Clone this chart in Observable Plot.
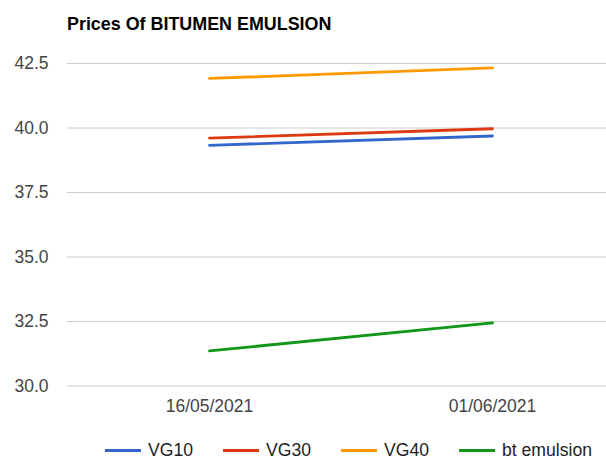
<!DOCTYPE html>
<html>
<head>
<meta charset="utf-8">
<script src="https://cdn.jsdelivr.net/npm/d3@7"></script>
<script src="https://cdn.jsdelivr.net/npm/@observablehq/plot@0.6"></script>
<style>
  html, body { margin: 0; padding: 0; background: #fff; overflow: hidden; }
  #wrap { position: relative; width: 606px; height: 468px; font-family: "Liberation Sans", Arial, sans-serif; }
  #title { position: absolute; left: 67px; top: 16px; font-size: 17.9px; line-height: 1; font-weight: bold; color: #000; white-space: nowrap; }
  #chart { position: absolute; left: 0; top: 45px; }
  #legend { position: absolute; left: 105px; top: 440px; display: flex; align-items: center; height: 21px; font-size: 17.6px; color: #222; white-space: nowrap; }
  .item { display: flex; align-items: center; margin-right: 30px; }
  .sw { width: 36px; height: 3.5px; margin-right: 7px; }
</style>
</head>
<body>
<div id="wrap">
  <div id="title">Prices Of BITUMEN EMULSION</div>
  <div id="chart"></div>
  <div id="legend"></div>
</div>
<script>
const dates = ["16/05/2021", "01/06/2021"];
const seriesNames = ["VG10", "VG30", "VG40", "bt emulsion"];
const vg10 = [39.33, 39.69];
const vg30 = [39.61, 39.97];
const vg40 = [41.92, 42.33];
const btEmulsion = [31.36, 32.45];
const yTicks = [30, 32.5, 35, 37.5, 40, 42.5];
const colors = ["#3366cc", "#dc3912", "#ff9900", "#109618"];

const seriesValues = [vg10, vg30, vg40, btEmulsion];
const rows = [];
seriesNames.forEach((s, i) => {
  dates.forEach((d, j) => rows.push({series: s, date: d, value: seriesValues[i][j]}));
});

const chart = Plot.plot({
  width: 606,
  height: 375,
  marginLeft: 67,
  marginRight: 0,
  marginTop: 18,
  marginBottom: 34.5,
  style: {fontFamily: "'Liberation Sans', Arial, sans-serif", fontSize: "17.5px", background: "transparent", overflow: "hidden"},
  x: {type: "point", domain: dates, padding: 0.45, align: 0.555},
  y: {domain: [30, 42.5]},
  color: {domain: seriesNames, range: colors},
  marks: [
    Plot.gridY(yTicks, {stroke: "#cccccc", strokeOpacity: 1, strokeWidth: 1}),
    Plot.axisY(yTicks, {tickSize: 0, tickPadding: 19, tickFormat: d => d.toFixed(1), fill: "#444", label: null}),
    Plot.axisX({tickSize: 0, tickPadding: 14, fill: "#444", label: null}),
    Plot.line(rows, {x: "date", y: "value", z: "series", stroke: "series", strokeWidth: 2.8})
  ]
});
document.getElementById("chart").appendChild(chart);

const legend = document.getElementById("legend");
seriesNames.forEach((s, i) => {
  const item = document.createElement("div");
  item.className = "item";
  const sw = document.createElement("div");
  sw.className = "sw";
  sw.style.background = colors[i];
  const t = document.createElement("span");
  t.textContent = s;
  item.appendChild(sw);
  item.appendChild(t);
  legend.appendChild(item);
});
</script>
</body>
</html>
